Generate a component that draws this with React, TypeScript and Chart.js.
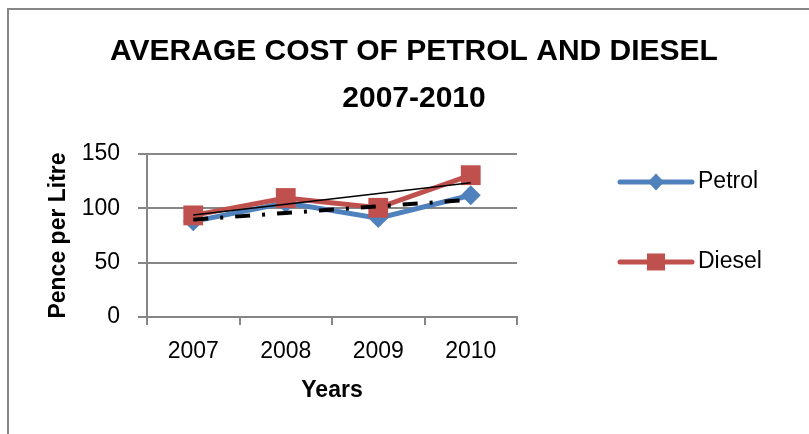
import React, { useEffect, useRef } from "react";
import { Chart, registerables } from "chart.js";

Chart.register(...registerables);

const years = ["2007", "2008", "2009", "2010"];
const petrol = [88, 105, 91, 112];
const diesel = [93.5, 109.5, 100.5, 130.5];
const petrolTrend = [89.6, 95.7, 101.8, 107.9];
const dieselTrend = [93.9, 103.8, 113.7, 123.6];
const yTicks = [0, 50, 100, 150];
const titleLines = ["AVERAGE COST OF PETROL AND DIESEL", "2007-2010"];

const BLUE = "#4F81BD";
const RED = "#C0504D";
const GRID = "#868686";
const FONT = "'Liberation Sans', Arial, sans-serif";

const legendPlugin = {
  id: "sideLegend",
  afterDraw(chart: any) {
    const { ctx, chartArea } = chart;
    const items = [0, 1];
    const ys = [chartArea.top + 28, chartArea.top + 108];
    items.forEach((idx, k) => {
      const ds = chart.data.datasets[idx];
      const y = ys[k];
      const x0 = chartArea.right + 103;
      const x1 = chartArea.right + 175;
      const xm = (x0 + x1) / 2;
      ctx.save();
      ctx.strokeStyle = ds.borderColor;
      ctx.lineWidth = 5;
      ctx.lineCap = "round";
      ctx.beginPath();
      ctx.moveTo(x0, y);
      ctx.lineTo(x1, y);
      ctx.stroke();
      ctx.fillStyle = ds.borderColor;
      ctx.beginPath();
      if (ds.pointStyle === "rectRot") {
        ctx.moveTo(xm - 8, y);
        ctx.lineTo(xm, y - 8.5);
        ctx.lineTo(xm + 8, y);
        ctx.lineTo(xm, y + 8.5);
        ctx.closePath();
      } else {
        ctx.rect(xm - 9, y - 8.5, 18, 17);
      }
      ctx.fill();
      ctx.fillStyle = "#000";
      ctx.font = `23px ${FONT}`;
      ctx.textBaseline = "middle";
      ctx.textAlign = "left";
      ctx.fillText(ds.label, x1 + 6, y);
      ctx.restore();
    });
  },
};

export default function App() {
  const ref = useRef<HTMLCanvasElement | null>(null);
  useEffect(() => {
    if (!ref.current) return;
    const chart = new Chart(ref.current, {
      type: "line",
      data: {
        labels: years,
        datasets: [
          {
            label: "Petrol",
            data: petrol,
            borderColor: BLUE,
            backgroundColor: BLUE,
            borderWidth: 5,
            pointStyle: "rectRot",
            pointRadius: 10,
            pointBorderWidth: 0,
            pointBackgroundColor: BLUE,
            order: 3,
          },
          {
            label: "Diesel",
            data: diesel,
            borderColor: RED,
            backgroundColor: RED,
            borderWidth: 5,
            pointStyle: "rect",
            pointRadius: 14,
            pointBorderWidth: 0,
            pointBackgroundColor: RED,
            order: 2,
          },
          {
            label: "Linear (Petrol)",
            data: petrolTrend,
            borderColor: "#000",
            borderWidth: 4,
            borderDash: [15, 12, 3, 12],
            pointRadius: 0,
            order: 1,
          },
          {
            label: "Linear (Diesel)",
            data: dieselTrend,
            borderColor: "#000",
            borderWidth: 1.5,
            pointRadius: 0,
            order: 0,
          },
        ],
      },
      options: {
        animation: false,
        responsive: false,
        layout: { padding: { left: 19, right: 0, top: 0, bottom: 0 } },
        plugins: {
          legend: { display: false },
          tooltip: { enabled: false },
          title: {
            display: true,
            text: titleLines,
            color: "#000",
            font: { family: FONT, size: 30, weight: "bold", lineHeight: 1.583 },
            padding: { top: 27.75, bottom: 31.25 },
          },
        },
        scales: {
          x: {
            offset: true,
            grid: {
              offset: true,
              drawOnChartArea: false,
              drawTicks: true,
              tickLength: 8,
              color: GRID,
              lineWidth: 2,
            },
            border: { display: true, color: GRID, width: 2 },
            ticks: { color: "#000", font: { family: FONT, size: 23 }, padding: 13 },
            title: {
              display: true,
              text: "Years",
              color: "#000",
              font: { family: FONT, size: 23, weight: "bold" },
              padding: { top: 0, bottom: 30 },
            },
            afterFit(scale: any) {
              scale.height = 117;
            },
          },
          y: {
            min: 0,
            max: 150,
            afterBuildTicks(scale: any) {
              scale.ticks = yTicks.map((v) => ({ value: v }));
            },
            grid: { color: GRID, lineWidth: 2, tickLength: 9 },
            border: { display: true, color: GRID, width: 2 },
            ticks: { color: "#000", font: { family: FONT, size: 23 }, padding: 18 },
            title: {
              display: true,
              text: "Pence per Litre",
              color: "#000",
              font: { family: FONT, size: 23, weight: "bold" },
              padding: { top: 26, bottom: 0 },
            },
            afterFit(scale: any) {
              scale.width = 128;
            },
          },
          spacer: {
            type: "linear",
            position: "right",
            display: true,
            grid: { display: false, drawTicks: false },
            border: { display: false },
            ticks: { display: false },
            afterFit(scale: any) {
              scale.width = 292;
            },
          },
        },
      } as any,
      plugins: [legendPlugin],
    });
    return () => chart.destroy();
  }, []);
  return (
    <div>
      <div
        style={{
          position: "fixed",
          left: 7,
          top: 8,
          width: 1200,
          height: 1000,
          border: "2px solid #878787",
          boxSizing: "border-box",
          background: "#fff",
        }}
      />
      <canvas
        ref={ref}
        width={809}
        height={434}
        style={{ position: "fixed", left: 0, top: 0, width: 809, height: 434 }}
      />
    </div>
  );
}
